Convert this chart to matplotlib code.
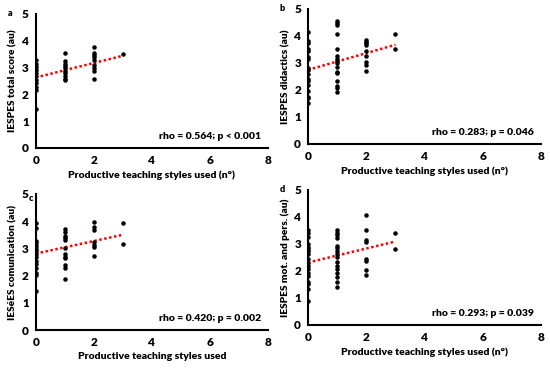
import matplotlib.pyplot as plt
import numpy as np

plt.rcParams["font.family"] = ["Lato", "DejaVu Sans"]
plt.rcParams["font.weight"] = "bold"

# x categories: number of productive teaching styles used
x_a = [0] * 11 + [1] * 10 + [2] * 9 + [3]
y_a = [3.28, 3.15, 3.03, 2.9, 2.78, 2.68, 2.53, 2.41, 2.26, 2.18, 1.46,
       3.55, 3.25, 3.15, 3.05, 2.97, 2.88, 2.78, 2.68, 2.59, 2.53,
       3.75, 3.55, 3.47, 3.38, 3.28, 3.08, 2.98, 2.88, 2.56,
       3.49]

x_b = [0] * 17 + [1] * 16 + [2] * 9 + [3] * 2
y_b = [4.13, 3.8, 3.72, 3.53, 3.45, 3.23, 3.13, 2.8, 2.73, 2.59, 2.39, 2.33, 2.18, 1.97, 1.75, 1.69, 1.5,
       4.56, 4.46, 4.4, 4.06, 3.51, 3.25, 3.13, 3.07, 3.0, 2.86, 2.67, 2.61, 2.33, 2.14, 2.08, 1.91,
       3.84, 3.77, 3.72, 3.66, 3.45, 3.25, 3.03, 2.92, 2.7,
       4.06, 3.51]

x_c = [0] * 15 + [1] * 12 + [2] * 7 + [3] * 2
y_c = [3.92, 3.75, 3.28, 3.18, 3.08, 2.99, 2.91, 2.79, 2.67, 2.52, 2.42, 2.27, 2.08, 2.01, 1.44,
       3.71, 3.62, 3.46, 3.38, 3.30, 3.01, 2.79, 2.69, 2.64, 2.40, 2.27, 1.87,
       3.96, 3.80, 3.67, 3.25, 3.12, 3.06, 2.73,
       3.92, 3.16]

x_d = [0] * 18 + [1] * 16 + [2] * 8 + [3] * 2
y_d = [3.5, 3.4, 3.25, 3.0, 2.9, 2.82, 2.72, 2.63, 2.44, 2.28, 2.2, 2.07, 1.91, 1.82, 1.58, 1.51, 1.33, 0.87,
       3.5, 3.4, 3.34, 3.23, 2.94, 2.85, 2.75, 2.63, 2.5, 2.32, 2.2, 2.06, 1.91, 1.76, 1.58, 1.39,
       4.06, 3.52, 3.15, 3.06, 2.44, 2.38, 2.04, 1.85,
       3.4, 2.82]

# linear trend: (intercept, slope)
trend_a = (2.63, 0.27)
trend_b = (2.74, 0.31)
trend_c = (2.81, 0.23)
trend_d = (2.31, 0.26)

ylabels = ["IESPES total score (au)", "IESPES didactics (au)",
           "IESéES comunication (au)", "IESPES mot. and pers. (au)"]
xlabels = ["Productive teaching styles used (n°)", "Productive teaching styles used (n°)",
           "Productive teaching styles used", "Productive teaching styles used (n°)"]
stats = ["rho = 0.564; p < 0.001", "rho = 0.283; p = 0.046",
         "rho = 0.420; p = 0.002", "rho = 0.293; p = 0.039"]
letters = ["a", "b", "c", "d"]

positions = [
    [0.065, 0.598, 0.422, 0.364],
    [0.560, 0.609, 0.424, 0.367],
    [0.065, 0.103, 0.422, 0.370],
    [0.560, 0.117, 0.424, 0.367],
]

W = "heavy"

fig = plt.figure(figsize=(5.5, 3.68), dpi=100)

panels = [(x_a, y_a, trend_a), (x_b, y_b, trend_b), (x_c, y_c, trend_c), (x_d, y_d, trend_d)]
for i, (xs, ys, tr) in enumerate(panels):
    ax = fig.add_axes(positions[i])
    ax.scatter(xs, ys, s=5, color="black", zorder=3)
    tx = np.array([0, 3])
    ax.plot(tx, tr[0] + tr[1] * tx, color="#ff0000", linestyle=(0, (1, 1)), linewidth=1.8, zorder=2)
    ax.set_xlim(0, 8)
    ax.set_ylim(0, 5)
    ax.set_xticks([0, 2, 4, 6, 8])
    ax.set_yticks([0, 1, 2, 3, 4, 5])
    ax.tick_params(length=0, labelsize=8.5, pad=5)
    for lab in ax.get_xticklabels() + ax.get_yticklabels():
        lab.set_fontweight(W)
    ax.spines["top"].set_visible(False)
    ax.spines["right"].set_visible(False)
    ax.spines["left"].set_linewidth(1.5)
    ax.spines["bottom"].set_linewidth(1.5)
    ax.set_ylabel(ylabels[i], fontsize=7.3, fontweight=W, labelpad=3)
    ax.set_xlabel(xlabels[i], fontsize=7.5, fontweight=W, labelpad=3)
    ax.text(0.97, 0.05, stats[i], transform=ax.transAxes, ha="right", va="bottom",
            fontsize=7.5, fontweight=W)
    if i == 2:
        ax.text(-0.01, 0.97, letters[i], transform=ax.transAxes, ha="right", va="center",
                fontsize=6.5, fontweight=W)
    else:
        ax.text(-0.11, 1.0, letters[i], transform=ax.transAxes, ha="center", va="center",
                fontsize=6.5, fontweight=W)

plt.savefig("out.png", dpi=100)
plt.close()
